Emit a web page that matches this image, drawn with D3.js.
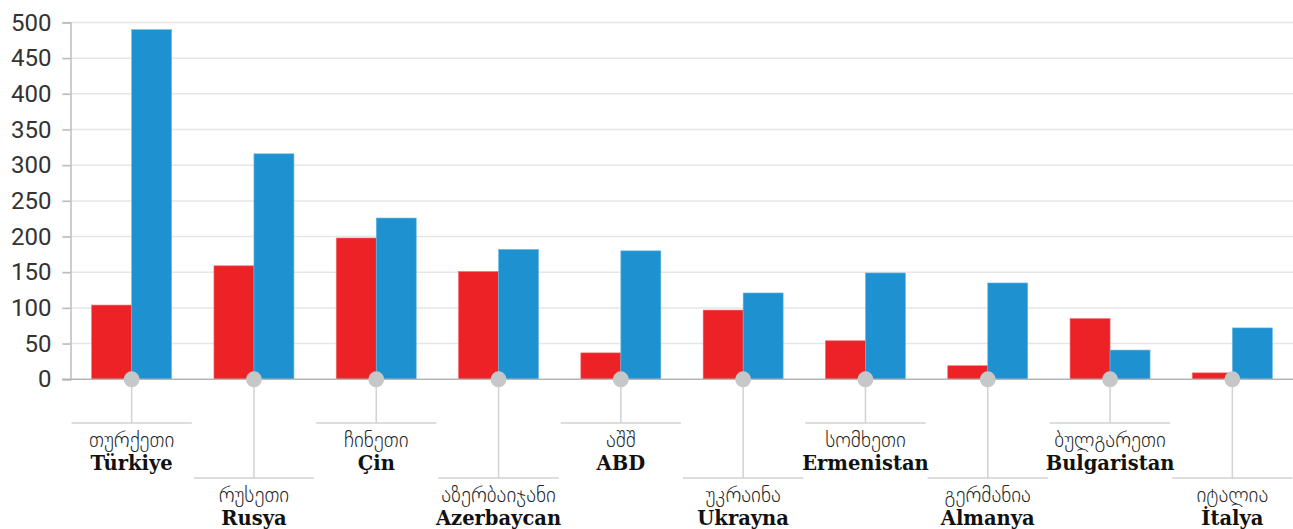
<!DOCTYPE html>
<html>
<head>
  <meta charset="utf-8">
  <title>Countries</title>
  <script src="https://d3js.org/d3.v7.min.js"></script>
  <style>
    body { margin: 0; background: #fff; }
    .tick text { font-family: Roboto, sans-serif; }
  </style>
</head>
<body>
  <div id="chart"></div>
  <script type="text/javascript">
    // chart data
    var georgianNames = ["თურქეთი", "რუსეთი", "ჩინეთი", "აზერბაიჯანი", "აშშ",
                         "უკრაინა", "სომხეთი", "გერმანია", "ბულგარეთი", "იტალია"];
    var turkishNames = ["Türkiye", "Rusya", "Çin", "Azerbaycan", "ABD",
                        "Ukrayna", "Ermenistan", "Almanya", "Bulgaristan", "İtalya"];
    var redValues  = [104, 159, 198, 151, 37, 97, 54, 19, 85, 9];
    var blueValues = [490, 316, 226, 182, 180, 121, 149, 135, 41, 72];
    var yTicks = [0, 50, 100, 150, 200, 250, 300, 350, 400, 450, 500];

    "use strict";
    var width = 1293,
        height = 529;

    var svg = d3.select("#chart")
      .append("svg")
      .attr("width", width)
      .attr("height", height);

    var x = d3.scaleBand()
      .domain(turkishNames)
      .range([70.5, 1293.5])
      .paddingInner(0.346)
      .paddingOuter(0.173);

    var sub = d3.scaleBand()
      .domain(["red", "blue"])
      .range([0, x.bandwidth()]);

    var y = d3.scaleLinear()
      .domain([0, 500])
      .range([379.3, 22.5]);

    var step = x.step();

    // gridlines
    svg.append("g")
      .selectAll("line")
      .data(yTicks.filter(function (d) { return d > 0; }))
      .enter().append("line")
        .attr("x1", 62).attr("x2", width)
        .attr("y1", function (d) { return y(d); })
        .attr("y2", function (d) { return y(d); })
        .attr("stroke", "#e6e6e6")
        .attr("stroke-width", 1.5);

    // y axis
    var yAxis = svg.append("g")
      .attr("transform", "translate(70.5,0)")
      .call(d3.axisLeft(y).tickValues(yTicks).tickSize(8).tickPadding(11));
    yAxis.select(".domain").attr("stroke", "#bdbdbd").attr("stroke-width", 1.5);
    yAxis.selectAll(".tick line").attr("stroke", "#bdbdbd").attr("stroke-width", 1.5);
    yAxis.selectAll(".tick text")
      .attr("fill", "#333")
      .style("font-size", "24px")
      .style("font-weight", 400);

    // bars
    var groups = svg.append("g")
      .selectAll("g")
      .data(turkishNames)
      .enter().append("g")
        .attr("transform", function (d) { return "translate(" + x(d) + ",0)"; });

    groups.append("rect")
      .attr("x", sub("red"))
      .attr("width", sub.bandwidth())
      .attr("y", function (d, i) { return y(redValues[i]); })
      .attr("height", function (d, i) { return y(0) - y(redValues[i]); })
      .attr("fill", "#ed2226")
      .attr("stroke", "#f0686a")
      .attr("stroke-width", 0.6);

    groups.append("rect")
      .attr("x", sub("blue"))
      .attr("width", sub.bandwidth())
      .attr("y", function (d, i) { return y(blueValues[i]); })
      .attr("height", function (d, i) { return y(0) - y(blueValues[i]); })
      .attr("fill", "#1e92d0")
      .attr("stroke", "#6ab8e2")
      .attr("stroke-width", 0.6);

    // baseline
    svg.append("line")
      .attr("x1", 62).attr("x2", width)
      .attr("y1", y(0)).attr("y2", y(0))
      .attr("stroke", "#b5b5b5")
      .attr("stroke-width", 1.5);

    // labels with leader lines
    var labels = svg.append("g")
      .selectAll("g")
      .data(turkishNames)
      .enter().append("g")
        .attr("transform", function (d) {
          return "translate(" + (x(d) + x.bandwidth() / 2) + ",0)";
        });

    function lineY(i) { return i % 2 === 0 ? 423 : 478; }

    labels.append("line")
      .attr("x1", 0).attr("x2", 0)
      .attr("y1", y(0))
      .attr("y2", function (d, i) { return lineY(i); })
      .attr("stroke", "#d2d2d2")
      .attr("stroke-width", 1.5);

    labels.append("line")
      .attr("x1", -step / 2 + 1).attr("x2", step / 2 - 1)
      .attr("y1", function (d, i) { return lineY(i); })
      .attr("y2", function (d, i) { return lineY(i); })
      .attr("stroke", "#d2d2d2")
      .attr("stroke-width", 1.5);

    labels.append("circle")
      .attr("cx", 0)
      .attr("cy", y(0))
      .attr("r", 8)
      .attr("fill", "#c6c7c9");

    labels.append("text")
      .attr("text-anchor", "middle")
      .attr("y", function (d, i) { return lineY(i) + 24; })
      .style("font-family", "'DejaVu Sans', sans-serif")
      .style("font-weight", 200)
      .style("font-size", "21px")
      .attr("fill", "#222")
      .text(function (d, i) { return georgianNames[i]; });

    labels.append("text")
      .attr("text-anchor", "middle")
      .attr("y", function (d, i) { return lineY(i) + 47; })
      .style("font-family", "'DejaVu Serif', serif")
      .style("font-weight", 700)
      .style("font-size", "19.5px")
      .attr("fill", "#111")
      .text(function (d) { return d; });
  </script>
</body>
</html>
